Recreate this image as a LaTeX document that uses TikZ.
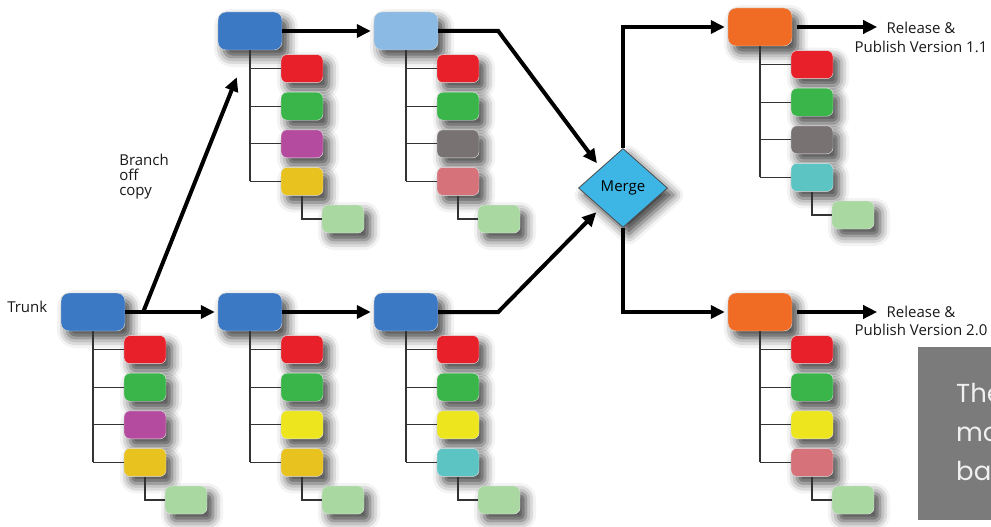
\documentclass[tikz,border=0pt]{standalone}
\usepackage{fontspec}
\setmainfont{Open Sans}
\newfontfamily\boxfont{Poppins}
\usetikzlibrary{calc,positioning,shapes.geometric,arrows.meta,shadows.blur}

\definecolor{headblue}{HTML}{3C79C4}
\definecolor{headsky}{HTML}{8BBAE4}
\definecolor{headorange}{HTML}{F06C25}
\definecolor{lred}{HTML}{E8202A}
\definecolor{lgreen}{HTML}{3AB54A}
\definecolor{lpurple}{HTML}{B44B9E}
\definecolor{lmustard}{HTML}{E8C21F}
\definecolor{lyellow}{HTML}{EDE51E}
\definecolor{lgrey}{HTML}{787272}
\definecolor{lpink}{HTML}{D6727A}
\definecolor{lteal}{HTML}{5CC4C2}
\definecolor{lpale}{HTML}{A9D8A1}
\definecolor{mergeblue}{HTML}{3DB6E6}
\definecolor{boxgrey}{HTML}{7B7B7B}

\tikzset{softshadow/.style={blur shadow={shadow xshift=6pt, shadow yshift=-7pt, shadow blur radius=10pt, shadow opacity=75}},
  head/.style={rectangle, rounded corners=8pt, minimum width=64pt, minimum height=38pt, draw=black!15, softshadow},
  leaf/.style={rectangle, rounded corners=6pt, minimum width=42pt, minimum height=28pt, draw=black!10, softshadow},
  tree/.style={draw=black!80, line width=1.3pt},
  flow/.style={line width=4pt, -{Triangle[length=14pt,width=13pt]}, shorten >=3pt},
  lbl/.style={font=\fontsize{15}{17}\selectfont, text=black!90},
  merge/.style={diamond, aspect=1.13, minimum width=89pt, minimum height=79pt, inner sep=0pt, draw=black!70, thick, softshadow, font=\fontsize{15}{17}\selectfont}}

% head node, its four leaves and the extra leaf below the last one
\newcommand{\branchstack}[4]{%
  \node[head, fill=#3] (#1) at (#2) {};
  \foreach \c [count=\i] in {#4} {
    \node[leaf, fill=\c] (#1-\i) at ($(#1)+(52,37.6*\i)$) {};
    \draw[tree] (#1-\i.west) -- (#1-\i.west -| #1);
  }
  \node[leaf, fill=lpale] (#1-5) at ($(#1)+(93,188)$) {};
  \draw[tree] (#1.south) -- (#1-4.west -| #1);
  \draw[tree] (#1-4.south) |- (#1-5.west);
}

\begin{document}
\begin{tikzpicture}[x=1pt, y=-1pt]
    \useasboundingbox (0,0) rectangle (991,527);

    \branchstack{trunk}{93,312}{headblue}{lred,lgreen,lpurple,lmustard}
    \branchstack{trunkB}{250,312}{headblue}{lred,lgreen,lyellow,lmustard}
    \branchstack{trunkC}{406,312}{headblue}{lred,lgreen,lyellow,lteal}
    \branchstack{fixA}{250,31}{headblue}{lred,lgreen,lpurple,lmustard}
    \branchstack{fixB}{406,31}{headsky}{lred,lgreen,lgrey,lpink}
    \branchstack{relA}{760,27}{headorange}{lred,lgreen,lgrey,lteal}
    \branchstack{relB}{760,312}{headorange}{lred,lgreen,lyellow,lpink}

    \node[merge, fill=mergeblue] (merge) at (623,188) {Merge};

    \node[lbl] (trunklbl) [left=10pt of trunk, yshift=5pt] {Trunk};
    \node[lbl, align=left, font=\fontsize{15}{15}\selectfont] (branchlbl) at (144,177) {Branch\\off\\copy};

    % main flow
    \draw[flow] (trunk.east) -- (trunkB.west);
    \draw[flow] (trunkB.east) -- (trunkC.west);
    \draw[flow] (fixA.east) -- (fixB.west);
    \coordinate (fork) at ($(trunk.east)+(18,0)$);
    \coordinate (forkend) at ($(fixA.south west)+(19,27)$);
    \draw[flow, shorten >=0pt] (fork) -- (forkend);
    \draw[flow, shorten >=6pt] (fixB.east) -- ++(60,0) -- (merge.north west);
    \draw[flow, shorten >=6pt] (trunkC.east) -- ++(60,0) -- (merge.south west);
    \draw[flow] (merge.north) |- (relA.west);
    \draw[flow] (merge.south) |- (relB.west);

    % releases
    \coordinate (outA) at ($(relA.east)+(85,0)$);
    \coordinate (outB) at ($(relB.east)+(85,0)$);
    \draw[flow, shorten <=5pt, shorten >=0pt] (relA.east) -- (outA);
    \draw[flow, shorten <=5pt, shorten >=0pt] (relB.east) -- (outB);
    \node[lbl, align=center, font=\fontsize{15}{19}\selectfont] (pubA) at (921,37) {Release \&\\Publish Version 1.1};
    \node[lbl, align=center, font=\fontsize{15}{18}\selectfont] (pubB) at (921,321) {Release \&\\Publish Version 2.0};

    % grey box cut by the right edge
    \begin{scope}
        \clip (0,0) rectangle (991,527);
        \fill[boxgrey] (918,347) rectangle (1000,520);
        \node[anchor=north west, align=left, text=white!88!gray, font=\boxfont\fontsize{26}{39}\selectfont, inner sep=0pt] (boxtext) at (956,383) {The\\mo\\ba};
    \end{scope}
\end{tikzpicture}
\end{document}
